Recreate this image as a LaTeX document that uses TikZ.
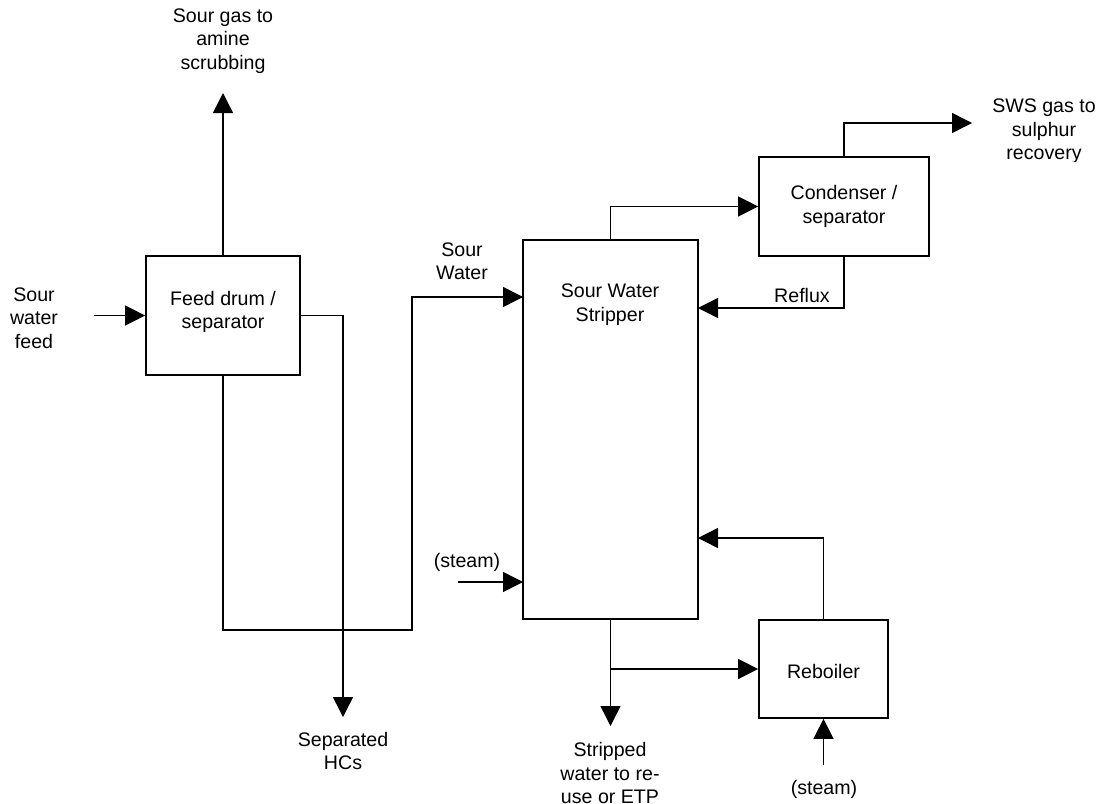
\documentclass[tikz,border=0pt]{standalone}
\usepackage{fontspec}
\setmainfont{Liberation Sans}
\usetikzlibrary{arrows.meta,fit}
\begin{document}
\begin{tikzpicture}[x=0.75pt,y=-0.75pt,
  box/.style={draw,line width=1.3pt,inner sep=0pt},
  flow/.style={draw,line width=1.1pt,-{Triangle[length=15pt,width=15pt]}},
  txt/.style={align=center,inner sep=0pt,font=\fontsize{14.7pt}{17.6pt}\selectfont}]
\useasboundingbox (0,0) rectangle (1106,803);

% process units
\node[box,fit={(146,256) (300,375)}] (feed) {};
\node[box,fit={(523,240) (698,619)}] (strip) {};
\node[box,fit={(759,157) (929,256)}] (cond) {};
\node[box,fit={(759,620) (888,718)}] (reb) {};

% unit labels
\node[txt] (feedtxt) at (223,312) {Feed drum /\\separator};
\node[txt] (striptxt) at (610,304.5) {Sour Water\\Stripper};
\node[txt] (condtxt) at (844,206.5) {Condenser /\\separator};
\node[txt] (rebtxt) at (823.5,671) {Reboiler};

% stream labels
\node[txt] (gaslbl) at (223,41) {Sour gas to\\amine\\scrubbing};
\node[txt] (feedlbl) at (34,318) {Sour\\water\\feed};
\node[txt] (swlbl) at (462,261.5) {Sour\\Water};
\node[txt] (reflbl) at (802,295) {Reflux};
\node[txt] (steamlbl1) at (467,562) {(steam)};
\node[txt] (steamlbl2) at (824,789) {(steam)};
\node[txt] (hclbl) at (343,751) {Separated\\HCs};
\node[txt] (stwlbl) at (610,773) {Stripped\\water to re-\\use or ETP};
% the last line of this label is trimmed just below its baseline
\begin{scope}
  \clip (980,80) rectangle (1106,161.3);
  \node[txt,anchor=south] (swslbl) at (1044,164) {SWS gas to\\sulphur\\recovery};
\end{scope}

% stream end points
\coordinate (feedin) at (94,315.5);
\coordinate (gasout) at (223,93);
\coordinate (hcout) at (343,717);
\coordinate (bend1) at (412,630);
\coordinate (swin) at (523,297);
\coordinate (swsout) at (972,123);
\coordinate (refin) at (698,308);
\coordinate (steamin1) at (458,582);
\coordinate (steamin1e) at (523,582);
\coordinate (stwout) at (610.5,726);
\coordinate (vapin) at (698,538);
\coordinate (steamin2) at (823.5,765);

% streams
\draw[flow] (feedin) -- (feed.west);
\draw[flow] (feed.north) -- (gasout);
\draw[flow] (feed.east) -| (hcout);
\draw[flow] (feed.south) |- (bend1) |- (swin);
\draw[flow] (strip.north) |- (cond.west);
\draw[flow] (cond.north) |- (swsout);
\draw[flow] (cond.south) |- (refin);
\draw[flow] (steamin1) -- (steamin1e);
\draw[flow] (strip.south) -- (stwout);
\draw[flow] (strip.south |- reb.west) -- (reb.west);
\draw[flow] (reb.north) |- (vapin);
\draw[flow] (steamin2) -- (reb.south);
\end{tikzpicture}
\end{document}
